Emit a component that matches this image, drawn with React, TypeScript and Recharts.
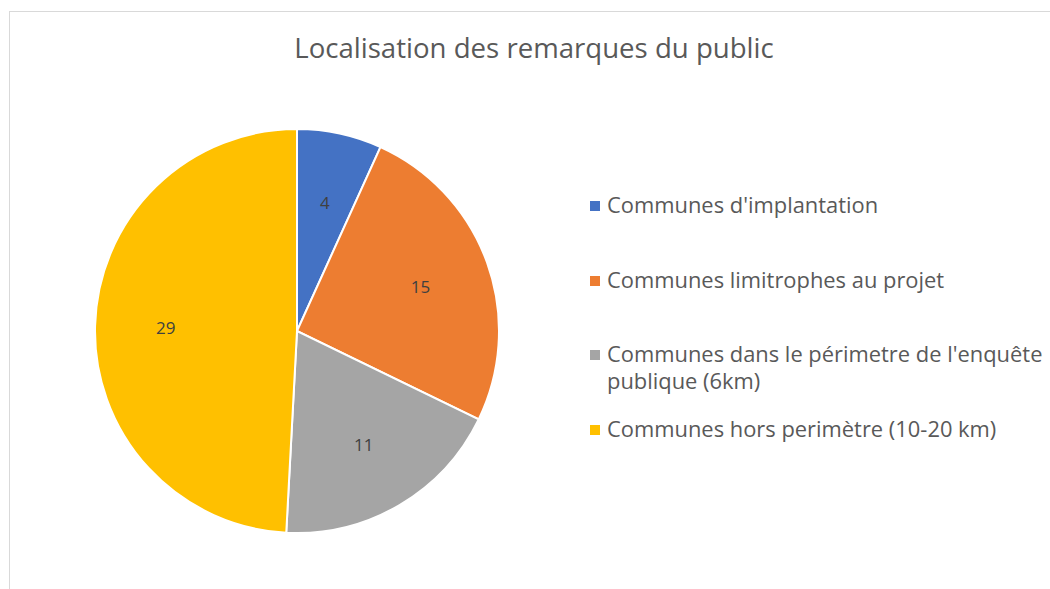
import { PieChart, Pie, Cell, Legend } from "recharts";

const categories = [
  "Communes d'implantation",
  "Communes limitrophes au projet",
  "Communes dans le périmetre de l'enquête publique (6km)",
  "Communes hors perimètre (10-20 km)",
];
const counts = [4, 15, 11, 29];
const COLORS = ["#4472c4", "#ed7d31", "#a5a5a5", "#ffc000"];

const chartData = categories.map((name, i) => ({ name, value: counts[i] }));

const RADIAN = Math.PI / 180;
const FONT = "'Open Sans', 'Noto Sans', sans-serif";

const renderLabel = (props: any) => {
  const { cx, cy, midAngle, outerRadius, value } = props;
  const r = outerRadius * 0.65;
  const x = cx + r * Math.cos(-midAngle * RADIAN);
  const y = cy + r * Math.sin(-midAngle * RADIAN);
  return (
    <text
      x={x}
      y={y}
      fill="#404040"
      fontSize={17}
      fontFamily={FONT}
      textAnchor="middle"
      dominantBaseline="central"
    >
      {value}
    </text>
  );
};

const renderLegend = () => (
  <div style={{ fontFamily: FONT, fontSize: 21.9, color: "#595959" }}>
    {chartData.map((entry, i) => (
      <div
        key={`legend-${i}`}
        style={{ display: "flex", alignItems: "flex-start", height: 74.5 }}
      >
        <span
          style={{
            display: "inline-block",
            width: 10,
            height: 10,
            marginTop: 10,
            marginRight: 7,
            background: COLORS[i % COLORS.length],
            flexShrink: 0,
          }}
        />
        <span style={{ lineHeight: "27px", width: 448 }}>{entry.name}</span>
      </div>
    ))}
  </div>
);

export default function App() {
  return (
    <div
      style={{
        position: "absolute",
        left: 0,
        top: 0,
        width: 1050,
        height: 589,
        background: "#fff",
        overflow: "hidden",
      }}
    >
      <div
        style={{
          position: "absolute",
          left: 9,
          top: 11,
          width: 1100,
          height: 700,
          border: "1px solid #d9d9d9",
        }}
      />
      <div
        style={{
          position: "absolute",
          left: 0,
          width: 1068,
          top: 28,
          textAlign: "center",
          fontFamily: FONT,
          fontSize: 27.6,
          color: "#595959",
        }}
      >
        Localisation des remarques du public
      </div>
      <div style={{ position: "absolute", left: 0, top: 0 }}>
        <PieChart
          width={1050}
          height={589}
          margin={{ top: 0, right: 0, bottom: 0, left: 0 }}
        >
          <Pie
            data={chartData}
            dataKey="value"
            nameKey="name"
            cx={297}
            cy={331}
            outerRadius={202}
            startAngle={90}
            endAngle={-270}
            stroke="#ffffff"
            strokeWidth={2}
            label={renderLabel}
            labelLine={false}
            isAnimationActive={false}
          >
            {chartData.map((entry, index) => (
              <Cell key={`cell-${index}`} fill={COLORS[index % COLORS.length]} />
            ))}
          </Pie>
          <Legend
            layout="vertical"
            content={renderLegend}
            wrapperStyle={{ position: "absolute", left: 590, top: 191, width: 460 }}
          />
        </PieChart>
      </div>
    </div>
  );
}
